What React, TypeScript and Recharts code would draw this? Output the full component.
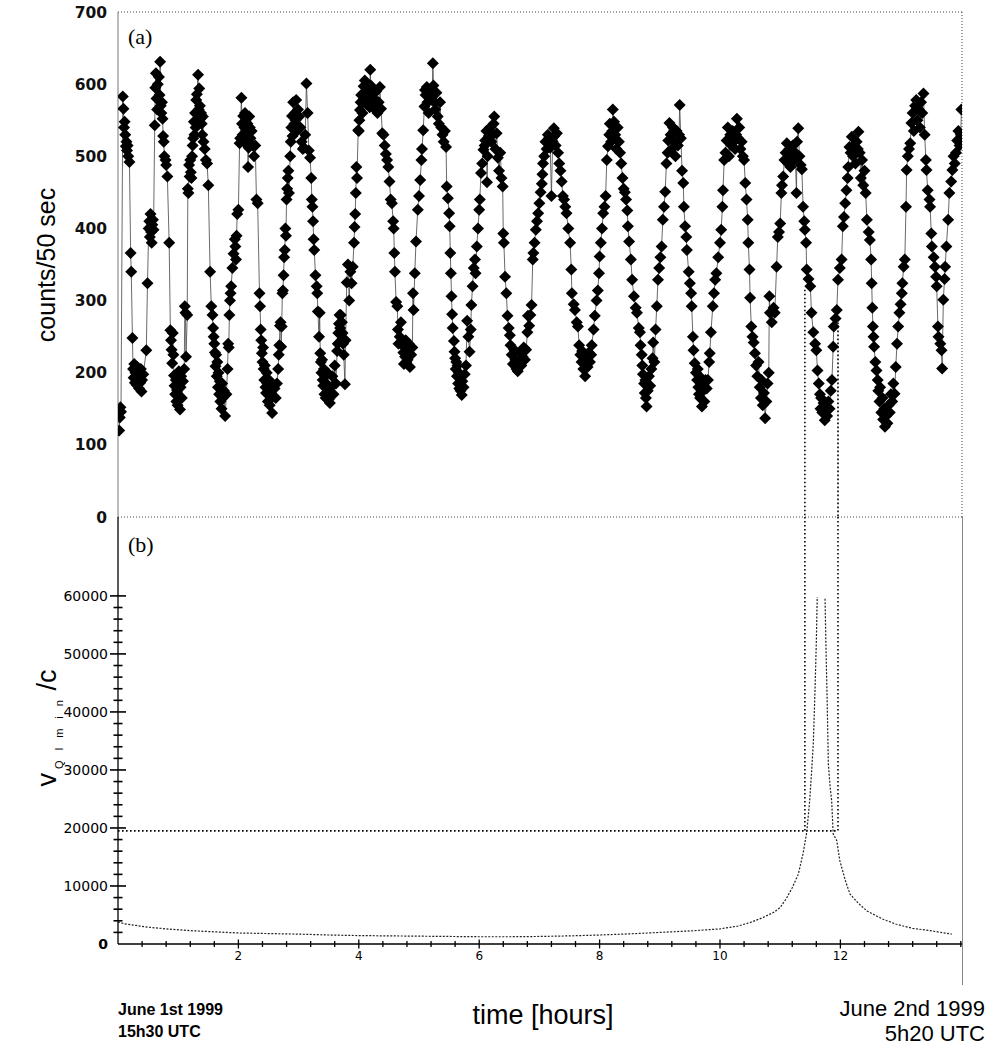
import React from "react";
import { LineChart, Line, XAxis, YAxis, ReferenceLine } from "recharts";

const HOURS_MAX = 14.02;
const COUNTS_TICKS = [0, 100, 200, 300, 400, 500, 600, 700];
const VELOCITY_MAX = 73600;
const VELOCITY_TICKS = [
  0, 2000, 4000, 6000, 8000, 10000, 12000, 14000, 16000, 18000, 20000, 22000,
  24000, 26000, 28000, 30000, 32000, 34000, 36000, 38000, 40000, 42000, 44000,
  46000, 48000, 50000, 52000, 54000, 56000, 58000, 60000,
];
const HOUR_TICKS = [
  0, 0.4, 0.8, 1.2, 1.6, 2, 2.4, 2.8, 3.2, 3.6, 4, 4.4, 4.8, 5.2, 5.6, 6, 6.4,
  6.8, 7.2, 7.6, 8, 8.4, 8.8, 9.2, 9.6, 10, 10.4, 10.8, 11.2, 11.6, 12, 12.4,
  12.8, 13.2, 13.6, 14,
];
const HOUR_LABELS = [2, 4, 6, 8, 10, 12];

// markers where the velocity crosses the cut level (hours)
const CUT_HOURS = [11.41, 11.96];
const CUT_COUNTS = [315, 275];
const CUT_VELOCITY = 19500;

// (a) counts per 50 s, [hours, counts]
const counts: [number, number][] = [
  // cycle 1
  [0.02,120],[0.03,138],[0.04,152],[0.05,146],[0.08,583],[0.09,566],[0.10,540],[0.11,548],[0.12,530],[0.13,514],[0.14,520],[0.15,508],[0.16,515],[0.17,500],[0.19,492],[0.21,366],[0.22,340],[0.24,248],[0.25,205],[0.26,193],[0.27,212],[0.28,186],[0.29,200],[0.30,196],[0.31,183],[0.32,208],[0.33,190],[0.34,202],[0.35,178],[0.36,195],[0.37,186],[0.38,205],[0.39,174],[0.40,190],[0.42,198],
  // cycle 2
  [0.47,231],[0.49,324],[0.51,400],[0.52,410],[0.53,388],[0.54,420],[0.55,395],[0.56,380],[0.57,405],[0.58,412],[0.59,398],[0.61,543],[0.62,595],[0.63,615],[0.64,580],[0.65,565],[0.66,600],[0.68,610],[0.69,585],[0.70,631],[0.71,570],[0.72,560],[0.73,575],[0.74,552],[0.75,528],[0.76,520],[0.77,500],[0.79,495],[0.80,488],[0.82,472],[0.85,380],[0.87,259],[0.88,245],[0.89,232],[0.90,213],[0.91,255],[0.92,225],[0.93,196],[0.94,182],[0.95,170],[0.96,190],[0.97,160],[0.98,176],[0.99,155],[1.00,185],[1.01,202],[1.02,168],[1.03,149],[1.04,180],[1.05,195],[1.06,165],[1.08,188],[1.10,205],
  // cycle 3
  [1.11,292],[1.12,283],[1.13,222],[1.15,280],[1.16,455],[1.17,449],[1.18,488],[1.19,472],[1.20,495],[1.21,478],[1.22,470],[1.23,500],[1.24,515],[1.25,525],[1.26,548],[1.27,530],[1.28,560],[1.29,540],[1.30,578],[1.31,586],[1.33,613],[1.34,565],[1.35,594],[1.36,570],[1.37,552],[1.38,560],[1.39,545],[1.40,530],[1.41,555],[1.42,520],[1.44,510],[1.46,495],[1.48,490],[1.50,460],[1.53,340],[1.55,292],[1.57,280],[1.58,262],[1.59,250],[1.60,240],[1.61,228],[1.62,209],[1.63,225],[1.64,195],[1.65,215],[1.66,180],[1.67,200],[1.68,170],[1.69,188],[1.70,160],[1.71,178],[1.72,150],[1.73,185],[1.74,165],[1.76,175],[1.78,140],[1.80,170],
  // cycle 4
  [1.82,205],[1.83,240],[1.84,235],[1.85,280],[1.86,300],[1.87,310],[1.88,320],[1.90,345],[1.92,365],[1.94,385],[1.95,375],[1.96,357],[1.97,390],[1.98,420],[2.00,426],[2.02,518],[2.03,525],[2.05,581],[2.06,545],[2.07,530],[2.08,556],[2.09,520],[2.10,540],[2.11,560],[2.12,548],[2.13,532],[2.14,520],[2.15,545],[2.16,485],[2.17,512],[2.18,555],[2.19,540],[2.20,525],[2.22,535],[2.24,515],[2.26,500],[2.28,515],[2.30,440],[2.32,435],[2.35,310],[2.36,292],[2.37,260],[2.38,245],[2.39,227],[2.40,215],[2.41,235],[2.42,205],[2.43,190],[2.44,210],[2.45,180],[2.46,172],[2.47,200],[2.48,185],[2.49,160],[2.50,175],[2.51,190],[2.52,155],[2.53,170],[2.54,182],[2.56,144],[2.58,168],[2.60,178],[2.62,165],[2.64,185],
  // cycle 5
  [2.66,205],[2.67,225],[2.68,238],[2.69,265],[2.70,270],[2.71,236],[2.72,264],[2.73,310],[2.74,314],[2.75,335],[2.76,360],[2.77,370],[2.78,400],[2.79,390],[2.80,440],[2.81,455],[2.82,470],[2.83,480],[2.84,449],[2.86,500],[2.87,520],[2.88,540],[2.89,556],[2.90,528],[2.91,575],[2.93,545],[2.94,560],[2.95,550],[2.96,578],[2.97,535],[2.99,565],[3.01,555],[3.03,540],[3.05,520],[3.07,510],[3.09,512],[3.11,530],[3.13,601],[3.15,560],[3.17,508],[3.19,498],[3.21,470],[3.22,440],[3.23,430],[3.24,410],[3.25,385],[3.26,370],[3.28,335],[3.30,320],[3.31,310],[3.32,285],[3.34,250],[3.35,283],[3.36,227],[3.37,215],[3.38,200],[3.39,218],[3.40,190],[3.41,182],[3.42,205],[3.43,170],[3.44,195],[3.45,165],[3.46,185],[3.47,172],[3.48,200],[3.49,178],[3.50,163],[3.52,158],[3.54,180],[3.56,195],[3.58,170],[3.60,210],[3.62,185],
  // cycle 6
  [3.64,230],[3.65,240],[3.66,255],[3.67,268],[3.68,280],[3.69,262],[3.70,280],[3.71,245],[3.72,270],[3.73,255],[3.74,240],[3.75,225],[3.77,184],[3.78,245],[3.80,325],[3.82,350],[3.84,300],[3.86,340],[3.88,324],[3.90,347],[3.92,380],[3.93,402],[3.94,420],[3.95,449],[3.96,485],[3.97,470],[3.99,536],[4.00,535],[4.01,550],[4.02,564],[4.03,575],[4.04,585],[4.06,560],[4.07,575],[4.08,597],[4.09,580],[4.10,605],[4.12,590],[4.14,572],[4.16,580],[4.18,568],[4.19,620],[4.20,598],[4.21,585],[4.23,570],[4.25,580],[4.27,565],[4.29,590],[4.31,560],[4.33,575],[4.35,596],[4.37,566],[4.39,532],[4.41,530],[4.43,515],[4.45,503],[4.47,495],[4.49,485],[4.51,465],[4.53,440],[4.55,435],[4.57,410],[4.58,400],[4.59,366],[4.60,340],[4.62,298],[4.64,292],[4.65,260],[4.66,240],[4.68,250],[4.70,270],[4.72,240],[4.74,228],[4.75,212],[4.76,235],[4.77,222],[4.78,245],[4.79,215],[4.80,230],[4.81,218],[4.83,240],[4.85,208],[4.87,225],[4.89,235],
  // cycle 7
  [4.90,310],[4.91,287],[4.93,338],[4.95,382],[4.98,426],[5.00,445],[5.02,467],[5.04,495],[5.05,510],[5.07,536],[5.09,569],[5.10,592],[5.11,585],[5.13,596],[5.14,575],[5.16,560],[5.18,590],[5.20,578],[5.22,585],[5.23,629],[5.24,598],[5.26,575],[5.27,565],[5.29,588],[5.31,555],[5.33,545],[5.35,575],[5.37,540],[5.39,530],[5.41,520],[5.43,535],[5.45,513],[5.46,458],[5.48,442],[5.50,421],[5.51,403],[5.52,366],[5.53,338],[5.54,306],[5.55,281],[5.56,262],[5.58,244],[5.59,229],[5.60,220],[5.61,205],[5.62,215],[5.63,195],[5.64,210],[5.65,185],[5.66,200],[5.67,178],[5.68,192],[5.69,175],[5.71,169],[5.72,188],[5.74,180],[5.76,198],
  // cycle 8
  [5.78,210],[5.80,272],[5.82,250],[5.84,229],[5.86,260],[5.87,294],[5.89,320],[5.91,345],[5.93,357],[5.94,338],[5.96,375],[5.98,400],[6.00,426],[6.01,440],[6.03,477],[6.05,490],[6.07,509],[6.09,515],[6.10,522],[6.12,535],[6.13,464],[6.14,500],[6.16,528],[6.18,540],[6.20,520],[6.22,530],[6.24,545],[6.25,555],[6.27,510],[6.29,532],[6.31,498],[6.33,480],[6.35,505],[6.37,470],[6.39,458],[6.40,393],[6.41,380],[6.43,333],[6.45,310],[6.47,279],[6.49,262],[6.51,252],[6.52,238],[6.54,225],[6.56,212],[6.58,232],[6.60,218],[6.62,205],[6.64,202],[6.66,215],[6.68,228],[6.70,210],[6.72,222],[6.74,235],[6.76,218],
  // cycle 9
  [6.78,232],[6.80,256],[6.81,279],[6.83,265],[6.85,280],[6.87,294],[6.89,357],[6.90,366],[6.92,380],[6.94,398],[6.96,410],[6.98,421],[7.00,435],[7.02,450],[7.04,462],[7.05,475],[7.06,490],[7.08,500],[7.10,520],[7.12,510],[7.14,530],[7.16,525],[7.18,512],[7.20,445],[7.22,520],[7.24,539],[7.25,528],[7.27,515],[7.29,532],[7.31,505],[7.33,490],[7.35,480],[7.37,465],[7.39,445],[7.41,440],[7.43,430],[7.45,421],[7.48,400],[7.51,380],[7.53,343],[7.54,310],[7.57,295],[7.59,287],[7.62,270],[7.64,264],[7.66,238],[7.68,225],[7.70,215],[7.71,230],[7.73,205],[7.75,212],[7.76,195],[7.78,220],[7.80,208],[7.82,228],[7.84,215],
  // cycle 10
  [7.86,225],[7.87,238],[7.90,260],[7.92,279],[7.95,300],[7.97,314],[7.99,338],[8.00,361],[8.02,380],[8.04,400],[8.06,421],[8.08,430],[8.10,445],[8.12,495],[8.14,514],[8.16,530],[8.17,545],[8.19,520],[8.21,535],[8.22,565],[8.24,548],[8.26,530],[8.28,510],[8.30,540],[8.32,520],[8.34,505],[8.36,490],[8.38,470],[8.40,455],[8.42,450],[8.44,440],[8.46,425],[8.47,403],[8.49,382],[8.52,357],[8.54,329],[8.57,306],[8.60,290],[8.62,283],[8.65,262],[8.67,256],[8.68,238],[8.70,225],[8.71,210],[8.72,198],[8.74,185],[8.75,172],[8.76,190],[8.77,165],[8.78,153],[8.80,175],[8.82,195],[8.84,182],[8.86,205],[8.88,220],
  // cycle 11
  [8.89,242],[8.91,215],[8.93,260],[8.95,292],[8.97,329],[8.99,345],[9.01,360],[9.03,375],[9.05,412],[9.07,430],[9.09,451],[9.11,490],[9.13,505],[9.14,522],[9.16,546],[9.18,530],[9.20,510],[9.22,540],[9.24,520],[9.26,500],[9.28,535],[9.30,515],[9.32,530],[9.33,571],[9.35,525],[9.37,480],[9.39,463],[9.40,430],[9.42,403],[9.44,388],[9.45,370],[9.48,340],[9.50,324],[9.52,310],[9.53,292],[9.55,250],[9.56,231],[9.58,213],[9.60,200],[9.62,190],[9.63,205],[9.64,180],[9.65,170],[9.66,195],[9.67,165],[9.68,185],[9.70,153],[9.72,175],[9.74,160],[9.76,190],[9.78,178],
  // cycle 12
  [9.80,190],[9.82,215],[9.83,227],[9.85,256],[9.88,292],[9.90,310],[9.92,329],[9.94,338],[9.97,360],[10.00,380],[10.02,398],[10.04,430],[10.05,453],[10.07,495],[10.09,505],[10.11,522],[10.13,540],[10.15,500],[10.17,530],[10.19,515],[10.21,535],[10.23,520],[10.25,510],[10.27,530],[10.28,552],[10.30,525],[10.32,540],[10.34,510],[10.36,520],[10.38,500],[10.40,495],[10.42,463],[10.44,440],[10.46,412],[10.47,380],[10.49,343],[10.50,304],[10.52,264],[10.54,250],[10.56,242],[10.58,227],[10.60,210],[10.62,195],[10.64,215],[10.66,180],[10.68,165],[10.69,190],[10.71,155],[10.73,172],[10.75,137],[10.77,160],[10.79,185],[10.81,200],
  // cycle 13
  [10.82,306],[10.83,283],[10.86,270],[10.89,290],[10.91,283],[10.94,347],[10.96,388],[10.98,395],[11.00,407],[11.02,449],[11.03,460],[11.05,472],[11.07,495],[11.09,505],[11.11,518],[11.13,490],[11.15,510],[11.17,485],[11.19,500],[11.21,515],[11.23,495],[11.25,505],[11.27,449],[11.28,520],[11.30,539],[11.32,500],[11.34,488],[11.36,482],[11.38,430],[11.40,410],[11.41,398],[11.43,380],[11.44,343],[11.47,330],[11.50,320],[11.52,283],[11.55,256],[11.58,240],[11.60,231],[11.62,203],[11.64,185],[11.66,170],[11.67,150],[11.68,165],[11.70,145],[11.72,158],[11.74,134],[11.76,148],[11.78,140],[11.80,160],[11.82,150],[11.84,175],[11.86,190],
  // cycle 14
  [11.88,236],[11.89,264],[11.92,275],[11.94,287],[11.96,329],[11.99,345],[12.02,357],[12.04,403],[12.06,416],[12.08,435],[12.10,453],[12.12,470],[12.13,485],[12.15,513],[12.17,505],[12.19,527],[12.21,500],[12.23,515],[12.25,490],[12.27,520],[12.29,510],[12.30,534],[12.32,505],[12.34,470],[12.36,495],[12.38,460],[12.40,480],[12.42,449],[12.44,412],[12.47,395],[12.49,384],[12.51,357],[12.52,324],[12.53,290],[12.54,264],[12.55,250],[12.56,236],[12.58,215],[12.60,203],[12.62,190],[12.63,175],[12.65,160],[12.66,180],[12.68,145],[12.70,165],[12.71,135],[12.73,150],[12.74,125],[12.76,140],[12.78,130],[12.80,155],[12.82,145],[12.84,170],[12.86,160],[12.88,185],
  // cycle 15
  [12.90,171],[12.92,208],[12.94,240],[12.96,264],[12.98,283],[13.00,295],[13.02,310],[13.03,324],[13.05,347],[13.07,357],[13.09,430],[13.10,481],[13.12,500],[13.14,510],[13.16,518],[13.18,546],[13.20,560],[13.22,535],[13.24,570],[13.26,578],[13.28,550],[13.30,565],[13.32,540],[13.34,575],[13.36,560],[13.38,587],[13.40,530],[13.42,495],[13.43,481],[13.45,453],[13.48,440],[13.49,430],[13.51,393],[13.52,375],[13.55,360],[13.57,347],[13.59,333],[13.60,320],[13.62,264],[13.63,250],[13.66,240],[13.68,231],[13.69,206],
  // cycle 16
  [13.71,301],[13.73,330],[13.74,347],[13.76,375],[13.79,412],[13.81,449],[13.84,465],[13.86,481],[13.88,500],[13.90,490],[13.92,505],[13.94,522],[13.96,535],[13.98,515],[14.00,530],[14.01,565],
];

// (b) v_Q lm in / c, [hours, value]; null leaves the gap between the two spikes
const velocity: [number, number | null][] = [
  [0.0,3800],[0.1,3500],[0.3,3200],[0.5,2900],[0.8,2600],[1.2,2300],[1.6,2100],[2.0,1900],[2.5,1800],[3.0,1700],[3.5,1550],[4.0,1450],[4.5,1400],[5.0,1350],[5.5,1300],[6.0,1250],[6.5,1250],[7.0,1300],[7.5,1400],[8.0,1550],[8.5,1750],[9.0,2000],[9.5,2250],[10.0,2600],[10.3,3100],[10.5,3700],[10.7,4500],[10.9,5500],[11.0,6300],[11.1,7800],[11.2,9700],[11.3,12000],[11.38,15600],[11.44,19200],[11.49,24700],[11.52,29400],[11.55,34600],[11.58,44300],[11.6,52000],[11.615,59800],
  [11.68,null],
  [11.745,59500],[11.755,54000],[11.765,49000],[11.78,42000],[11.8,31000],[11.83,27000],[11.855,24700],[11.88,19000],[11.94,17800],[11.99,14400],[12.08,11000],[12.16,8600],[12.3,7000],[12.44,5700],[12.7,4300],[12.93,3400],[13.2,2700],[13.49,2300],[13.85,1700],
];

const countsData = counts.map(([t, v]) => ({ t, v }));
const velocityData = velocity.map(([t, v]) => ({ t, v }));

const Diamond = (props: any) => {
  const { cx, cy, index } = props;
  if (cx == null || cy == null) return <g key={`d-${index}`} />;
  const r = 6;
  return (
    <polygon
      key={`d-${index}`}
      points={`${cx},${cy - r} ${cx + r},${cy} ${cx},${cy + r} ${cx - r},${cy}`}
      fill="#000"
    />
  );
};

const VelocityTick = ({ x, y, payload }: any) => {
  const v = payload.value;
  const major = v % 10000 === 0;
  const h = major ? 8 : 4.5;
  return (
    <g>
      {v !== 0 && (
        <line x1={x - h} x2={x + h} y1={y} y2={y} stroke="#000" strokeWidth={1.6} />
      )}
      {major && (
        <text
          x={x - 10}
          y={y}
          dy="0.36em"
          textAnchor="end"
          fontFamily="DejaVu Sans"
          fontSize={14}
          fontWeight={v === 0 ? 700 : 400}
          fill="#000"
        >
          {v}
        </text>
      )}
    </g>
  );
};

const HourTick = ({ x, y, payload }: any) => {
  const v = payload.value;
  const major = HOUR_LABELS.includes(v);
  const h = major ? 4.5 : 3;
  return (
    <g>
      {v !== 0 && (
        <line x1={x} x2={x} y1={y - h} y2={y + h} stroke="#000" strokeWidth={1.3} />
      )}
      {major && (
        <text
          x={x}
          y={y + 12}
          dy="0.36em"
          textAnchor="middle"
          fontFamily="DejaVu Sans"
          fontSize={12}
          fill="#000"
        >
          {v}
        </text>
      )}
    </g>
  );
};

const dotted = { stroke: "#444", strokeDasharray: "1 2", strokeWidth: 1 };
const cutStyle = { stroke: "#000", strokeDasharray: "1.6 2.4", strokeWidth: 1.6 };

export default function App() {
  return (
    <div
      style={{
        position: "absolute",
        left: 0,
        top: 0,
        width: 991,
        height: 1053,
        background: "#fff",
        overflow: "hidden",
      }}
    >
      <div style={{ position: "absolute", left: 0, top: 0 }}>
        <LineChart
          width={991}
          height={530}
          data={countsData}
          margin={{ top: 12, right: 29, bottom: 13, left: 0 }}
        >
          <XAxis dataKey="t" type="number" domain={[0, HOURS_MAX]} hide allowDataOverflow />
          <YAxis
            domain={[0, 700]}
            ticks={COUNTS_TICKS}
            interval={0}
            width={118}
            tickLine={false}
            tickSize={0}
            tickMargin={11}
            axisLine={{ stroke: "#777", strokeWidth: 1 }}
            tick={{ fontFamily: "DejaVu Sans", fontSize: 15.5, fontWeight: 700, fill: "#111" }}
          />
          <ReferenceLine y={700} {...dotted} />
          <ReferenceLine y={0} {...dotted} />
          <ReferenceLine x={HOURS_MAX} {...dotted} />
          {CUT_HOURS.map((h, i) => (
            <ReferenceLine
              key={`ca-${h}`}
              segment={[
                { x: h, y: CUT_COUNTS[i] },
                { x: h, y: 0 },
              ]}
              {...cutStyle}
            />
          ))}
          <Line
            dataKey="v"
            type="linear"
            stroke="#444"
            strokeWidth={0.8}
            dot={Diamond}
            activeDot={false}
            isAnimationActive={false}
          />
        </LineChart>
      </div>

      <div style={{ position: "absolute", left: 0, top: 505 }}>
        <LineChart
          width={991}
          height={481}
          data={velocityData}
          margin={{ top: 12, right: 29, bottom: 12, left: 0 }}
        >
          <XAxis
            dataKey="t"
            type="number"
            domain={[0, HOURS_MAX]}
            ticks={HOUR_TICKS}
            interval={0}
            height={30}
            tickSize={0}
            tickMargin={0}
            tickLine={false}
            axisLine={{ stroke: "#000", strokeWidth: 1.5 }}
            tick={<HourTick />}
            allowDataOverflow
          />
          <YAxis
            domain={[0, VELOCITY_MAX]}
            ticks={VELOCITY_TICKS}
            interval={0}
            width={118}
            tickSize={0}
            tickMargin={0}
            tickLine={false}
            axisLine={{ stroke: "#000", strokeWidth: 1.3 }}
            tick={<VelocityTick />}
            allowDataOverflow
          />
          <ReferenceLine
            segment={[
              { x: 0, y: CUT_VELOCITY },
              { x: CUT_HOURS[1], y: CUT_VELOCITY },
            ]}
            {...cutStyle}
          />
          {CUT_HOURS.map((h) => (
            <ReferenceLine
              key={`cb-${h}`}
              segment={[
                { x: h, y: VELOCITY_MAX },
                { x: h, y: CUT_VELOCITY },
              ]}
              {...cutStyle}
            />
          ))}
          <Line
            dataKey="v"
            type="linear"
            stroke="#222"
            strokeWidth={1.2}
            strokeDasharray="2 1.5"
            dot={false}
            activeDot={false}
            connectNulls={false}
            isAnimationActive={false}
          />
        </LineChart>
      </div>

      <div
        style={{
          position: "absolute",
          left: 962,
          top: 517,
          width: 1,
          height: 468,
          background: "#888",
        }}
      />

      <svg
        width={991}
        height={1053}
        style={{ position: "absolute", left: 0, top: 0, pointerEvents: "none" }}
      >
        <text x={128} y={44} fontFamily="Liberation Serif" fontSize={22} fill="#000">
          (a)
        </text>
        <text x={128} y={552} fontFamily="Liberation Serif" fontSize={22} fill="#000">
          (b)
        </text>
        <text
          transform="translate(55,265) rotate(-90)"
          textAnchor="middle"
          fontFamily="Liberation Sans"
          fontSize={25}
          fill="#000"
        >
          counts/50 sec
        </text>
        <text
          transform="translate(56,728) rotate(-90)"
          textAnchor="middle"
          fontFamily="Liberation Sans"
          fontSize={27}
          fill="#000"
        >
          v
          <tspan fontSize={11} dy={7} dx={4} letterSpacing={3.5}>
            Q l m i n
          </tspan>
          <tspan fontSize={27} dy={-7} dx={6}>
            /c
          </tspan>
        </text>
        <text
          x={543}
          y={1024}
          textAnchor="middle"
          fontFamily="Liberation Sans"
          fontSize={27}
          fill="#000"
        >
          time [hours]
        </text>
        <text x={118} y={1015} fontFamily="Liberation Sans" fontWeight={700} fontSize={16} fill="#000">
          June 1st 1999
        </text>
        <text x={118} y={1037} fontFamily="Liberation Sans" fontWeight={700} fontSize={16} fill="#000">
          15h30 UTC
        </text>
        <text x={985} y={1016} textAnchor="end" fontFamily="Liberation Sans" fontSize={22} fill="#000">
          June 2nd 1999
        </text>
        <text x={985} y={1041} textAnchor="end" fontFamily="Liberation Sans" fontSize={22} fill="#000">
          5h20 UTC
        </text>
      </svg>
    </div>
  );
}
